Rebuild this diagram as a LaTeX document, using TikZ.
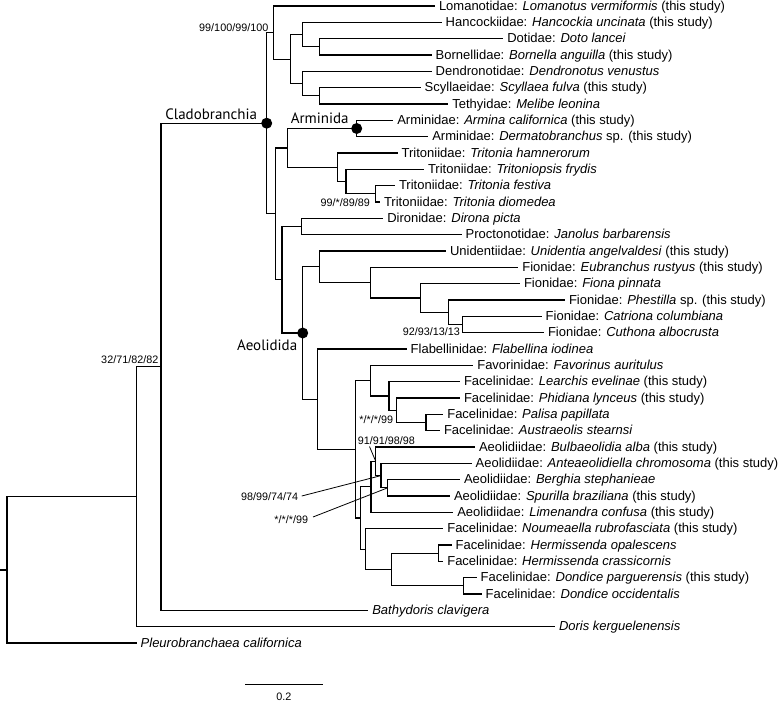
\documentclass[tikz,border=0pt]{standalone}
\usepackage{fontspec}
\setmainfont{Liberation Sans}
\newfontfamily\cladefont{PT Sans}
\begin{document}
\begin{tikzpicture}[x=1pt,y=-1pt,
  tree/.style={draw=black, line width=1.2pt},
  lead/.style={draw=black, line width=0.8pt},
  leaf/.style={anchor=west, inner sep=0pt, outer xsep=4pt, text height=10pt, text depth=2pt, font=\fontsize{13}{15}\selectfont},
  supp/.style={anchor=base east, inner sep=0pt, font=\fontsize{10.8}{12}\selectfont},
  clade/.style={anchor=base, inner sep=0pt, font=\cladefont\fontsize{15}{17}\selectfont},
  bdot/.style={circle, fill=black, minimum size=11pt, inner sep=0pt}]
\useasboundingbox (0,0) rectangle (778,702);
% internal nodes
\coordinate (root) at (7,569.9);
\coordinate (r0) at (0,569.9);
\coordinate (A) at (136.7,496.7);
\coordinate (B) at (161,366.8);
\coordinate (C) at (266.7,123.2);
\coordinate (D) at (273.3,32.5);
\coordinate (E) at (290.7,59.1);
\coordinate (F) at (302.7,34.6);
\coordinate (G) at (319.3,46.8);
\coordinate (H) at (302.7,83.6);
\coordinate (I) at (319.3,95.8);
\coordinate (J) at (275.3,213.8);
\coordinate (L) at (287.7,147.9);
\coordinate (Arm) at (356.7,128.5);
\coordinate (Trit) at (337.7,167.3);
\coordinate (M) at (346,181.6);
\coordinate (N) at (375.7,193.8);
\coordinate (K) at (282,279.7);
\coordinate (DP) at (301.7,226.5);
\coordinate (Aeo) at (302.7,333);
\coordinate (O) at (319.3,266.8);
\coordinate (Fio) at (370.7,282.7);
\coordinate (P) at (420.7,298);
\coordinate (Q) at (448.7,312.3);
\coordinate (R) at (462.7,324.5);
\coordinate (S) at (317.7,399.2);
\coordinate (T) at (355.5,449.3);
\coordinate (U) at (370.7,380.7);
\coordinate (Z) at (389,396);
\coordinate (Y) at (396.7,410.3);
\coordinate (PA) at (426,422.5);
\coordinate (V) at (360.7,518);
\coordinate (W) at (371,486.8);
\coordinate (BB) at (375.7,461.3);
\coordinate (AB) at (381,475.6);
\coordinate (BS) at (387.7,487.8);
\coordinate (X) at (365.7,549.1);
\coordinate (HD) at (391.7,569.5);
\coordinate (Herm) at (438.3,553.2);
\coordinate (Don) at (463.3,585.8);
% leaves
\node[leaf] (l1) at (435,6) {Lomanotidae: \textit{Lomanotus vermiformis} (this study)};
\node[leaf] (l2) at (441.7,22.33) {Hancockiidae: \textit{Hancockia uncinata} (this study)};
\node[leaf] (l3) at (503.3,38.67) {Dotidae: \textit{Doto lancei}};
\node[leaf] (l4) at (431.7,55) {Bornellidae: \textit{Bornella anguilla} (this study)};
\node[leaf] (l5) at (431.7,71.33) {Dendronotidae: \textit{Dendronotus venustus}};
\node[leaf] (l6) at (420.7,87.67) {Scyllaeidae: \textit{Scyllaea fulva} (this study)};
\node[leaf] (l7) at (448.3,104) {Tethyidae: \textit{Melibe leonina}};
\node[leaf] (l8) at (393.3,120.33) {Arminidae: \textit{Armina californica} (this study)};
\node[leaf] (l9) at (428.3,136.67) {Arminidae: \textit{Dermatobranchus} sp. (this study)};
\node[leaf] (l10) at (397.7,153) {Tritoniidae: \textit{Tritonia hamnerorum}};
\node[leaf] (l11) at (424,169.33) {Tritoniidae: \textit{Tritoniopsis frydis}};
\node[leaf] (l12) at (395,185.67) {Tritoniidae: \textit{Tritonia festiva}};
\node[leaf] (l13) at (380,202) {Tritoniidae: \textit{Tritonia diomedea}};
\node[leaf] (l14) at (383.3,218.33) {Dironidae: \textit{Dirona picta}};
\node[leaf] (l15) at (461.7,234.67) {Proctonotidae: \textit{Janolus barbarensis}};
\node[leaf] (l16) at (446,251) {Unidentiidae: \textit{Unidentia angelvaldesi} (this study)};
\node[leaf] (l17) at (518.3,267.33) {Fionidae: \textit{Eubranchus rustyus} (this study)};
\node[leaf] (l18) at (520,283.67) {Fionidae: \textit{Fiona pinnata}};
\node[leaf] (l19) at (565,300) {Fionidae: \textit{Phestilla} sp. (this study)};
\node[leaf] (l20) at (541.7,316.33) {Fionidae: \textit{Catriona columbiana}};
\node[leaf] (l21) at (544,332.67) {Fionidae: \textit{Cuthona albocrusta}};
\node[leaf] (l22) at (406.7,349) {Flabellinidae: \textit{Flabellina iodinea}};
\node[leaf] (l23) at (473.3,365.33) {Favorinidae: \textit{Favorinus auritulus}};
\node[leaf] (l24) at (460,381.67) {Facelinidae: \textit{Learchis evelinae} (this study)};
\node[leaf] (l25) at (460,398) {Facelinidae: \textit{Phidiana lynceus} (this study)};
\node[leaf] (l26) at (443.3,414.33) {Facelinidae: \textit{Palisa papillata}};
\node[leaf] (l27) at (440,430.67) {Facelinidae: \textit{Austraeolis stearnsi}};
\node[leaf] (l28) at (475,447) {Aeolidiidae: \textit{Bulbaeolidia alba} (this study)};
\node[leaf] (l29) at (471.7,463.33) {Aeolidiidae: \textit{Anteaeolidiella chromosoma} (this study)};
\node[leaf] (l30) at (460,479.67) {Aeolidiidae: \textit{Berghia stephanieae}};
\node[leaf] (l31) at (450,496) {Aeolidiidae: \textit{Spurilla braziliana} (this study)};
\node[leaf] (l32) at (453.3,512.33) {Aeolidiidae: \textit{Limenandra confusa} (this study)};
\node[leaf] (l33) at (443.3,528.67) {Facelinidae: \textit{Noumeaella rubrofasciata} (this study)};
\node[leaf] (l34) at (451.7,545) {Facelinidae: \textit{Hermissenda opalescens}};
\node[leaf] (l35) at (443.3,561.33) {Facelinidae: \textit{Hermissenda crassicornis}};
\node[leaf] (l36) at (476.7,577.67) {Facelinidae: \textit{Dondice parguerensis} (this study)};
\node[leaf] (l37) at (481.7,594) {Facelinidae: \textit{Dondice occidentalis}};
\node[leaf] (l38) at (368.3,610.33) {\textit{Bathydoris clavigera}};
\node[leaf] (l39) at (555,626.67) {\textit{Doris kerguelenensis}};
\node[leaf] (l40) at (136.7,643) {\textit{Pleurobranchaea californica}};
% edges between internal nodes
\draw[tree] (r0) -- (root);
\foreach \p/\c in {root/A, A/B, B/C, C/D, C/J, D/E, E/F, E/H, F/G, H/I,
  J/L, J/K, L/Arm, L/Trit, Trit/M, M/N, K/DP, K/Aeo, Aeo/O, Aeo/S,
  O/Fio, Fio/P, P/Q, Q/R, S/T, T/U, T/V, U/Z, Z/Y, Y/PA,
  V/W, V/X, W/BB, BB/AB, AB/BS, X/HD, HD/Herm, HD/Don}
  \draw[tree] (\p) |- (\c);
% edges to leaves
\foreach \p/\c in {root/l40, A/l39, B/l38, D/l1, F/l2, G/l3, G/l4, H/l5, I/l6, I/l7,
  Arm/l8, Arm/l9, Trit/l10, M/l11, N/l12, N/l13, DP/l14, DP/l15,
  O/l16, Fio/l17, P/l18, Q/l19, R/l20, R/l21, S/l22, U/l23, Z/l24, Y/l25,
  PA/l26, PA/l27, BB/l28, AB/l29, BS/l30, BS/l31, W/l32, X/l33,
  Herm/l34, Herm/l35, Don/l36, Don/l37}
  \draw[tree] (\p) |- (\c.west);
% clade dots and names
\node[bdot] (dC) at (C) {};
\node[bdot] (dArm) at (Arm) {};
\node[bdot] (dAeo) at (Aeo) {};
\node[clade] (tCla) at (211.2,119) {Cladobranchia};
\node[clade] (tArm) at (319.7,123.3) {Arminida};
\node[clade] (tAeo) at (267.2,350.7) {Aeolidida};
% support values
\node[supp] (s1) at (268.5,31) {99/100/99/100};
\node[supp] (s2) at (158.5,363) {32/71/82/82};
\node[supp] (s3) at (370,206.3) {99/*/89/89};
\node[supp] (s4) at (460,335.7) {92/93/13/13};
\node[supp] (s5) at (393.3,423) {*/*/*/99};
\node[supp] (s6) at (415,444) {91/91/98/98};
\node[supp] (s7) at (298.3,500) {98/99/74/74};
\node[supp] (s8) at (308.3,523) {*/*/*/99};
\coordinate (k6) at (369.5,446.5);
\coordinate (k7) at (301.7,496);
\coordinate (k8) at (313,517);
\draw[lead] (k6) -- (BB);
\draw[lead] (k7) -- (AB);
\draw[lead] (k8) -- (BS);
% scale bar
\coordinate (sb1) at (245,684.3);
\coordinate (sb2) at (322.7,684.3);
\draw[tree] (sb1) -- (sb2);
\node[supp, anchor=base] (sbl) at (283.8,700.5) {0.2};
\end{tikzpicture}
\end{document}
